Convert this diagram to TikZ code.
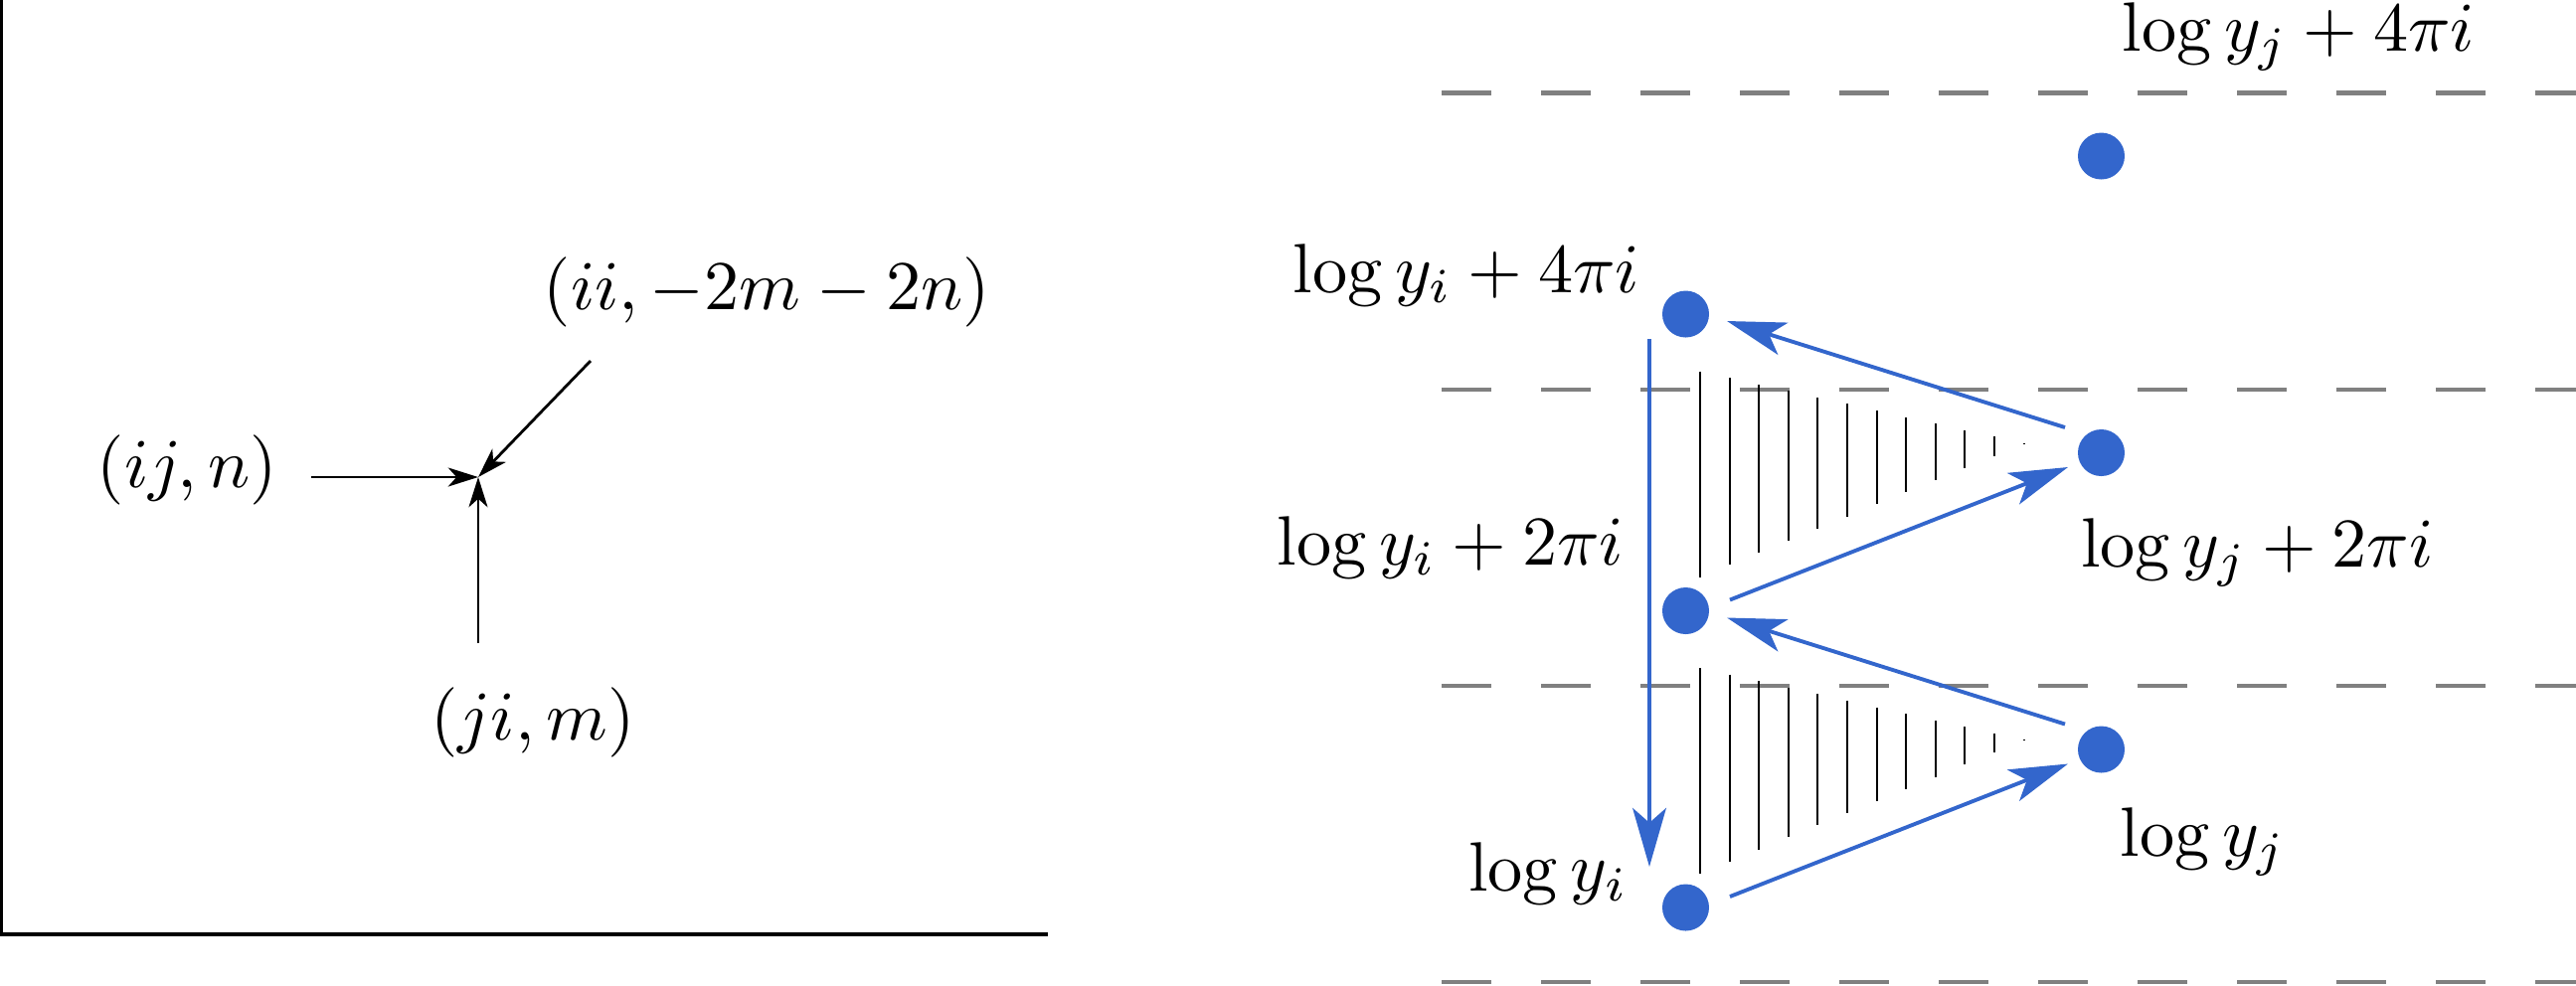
\documentclass[tikz,border=0pt]{standalone}
\usetikzlibrary{arrows.meta,calc}
\definecolor{dotblue}{RGB}{51,102,204}
\begin{document}
\begin{tikzpicture}[x=0.5cm,y=-0.5cm,
  lbl/.style={inner sep=0pt, anchor=base},
  dot/.style={circle, fill=dotblue, draw=none, inner sep=0pt, minimum size=0.235cm},
  blk/.style={line width=0.4pt, -{Stealth[length=4.3pt,width=2.7pt,inset=1.2pt]}},
  blu/.style={draw=dotblue, line width=0.55pt, -{Stealth[length=8.4pt,width=4.8pt,inset=2.1pt]}, fill=dotblue},
  period/.style={draw=gray, line width=0.6pt, dash pattern=on 0.25cm off 0.25cm},
  hatch/.style={line width=0.3pt}]
\useasboundingbox (0,0) rectangle (25.91,9.91);

% left panel frame
\draw[line width=0.5pt] (0.017,0) -- (0.017,9.40) -- (10.54,9.40);

% left panel labels
\node[lbl] (ijn) at (1.885,4.90) {$(ij,n)$};
\node[lbl] (iimn) at (7.715,3.115) {$(ii,-2m-2n)$};
\node[lbl] (jim) at (5.36,7.44) {$(ji,m)$};

% junction and arrows
\coordinate (J) at (4.81,4.80);
\coordinate (s1) at (3.13,4.80);
\coordinate (s2) at (4.81,6.47);
\coordinate (s3) at (5.94,3.63);
\draw[blk] (s1) -- (J);
\draw[blk] (s2) -- (J);
\draw[blk] (s3) -- (J);

% dashed period lines
\foreach \yy in {0.935,3.92,6.90,9.88}
  \draw[period] (14.5,\yy) -- (25.91,\yy);

% hatched triangles
\foreach \k in {0,...,11} {
  \pgfmathsetmacro\xx{17.10+0.296*\k}
  \pgfmathsetmacro\yt{3.735+0.2224*0.296*\k}
  \pgfmathsetmacro\yb{5.805-0.4117*0.296*\k}
  \pgfmathsetmacro\ytl{\yt+2.985}
  \pgfmathsetmacro\ybl{\yb+2.985}
  \draw[hatch] (\xx,\yt) -- (\xx,\yb);
  \draw[hatch] (\xx,\ytl) -- (\xx,\ybl);
}

% dots
\node[dot] (L0) at (16.955,9.13) {};
\node[dot] (L1) at (16.955,6.145) {};
\node[dot] (L2) at (16.955,3.16) {};
\node[dot] (R0) at (21.135,7.54) {};
\node[dot] (R1) at (21.135,4.555) {};
\node[dot] (R2) at (21.135,1.57) {};

% blue arrows
\draw[blu] ($(R1)+(-0.365,-0.255)$) -- ($(L2)+(0.415,0.07)$);
\draw[blu] ($(L1)+(0.445,-0.11)$) -- ($(R1)+(-0.335,0.145)$);
\draw[blu] ($(R0)+(-0.365,-0.255)$) -- ($(L1)+(0.415,0.07)$);
\draw[blu] ($(L0)+(0.445,-0.11)$) -- ($(R0)+(-0.335,0.145)$);
\draw[blu] ($(L2)+(-0.365,0.25)$) -- ($(L0)+(-0.365,-0.41)$);

% right panel labels
\node[lbl] (lj4) at (23.12,0.51) {$\log y_j + 4\pi i$};
\node[lbl] (lj2) at (22.705,5.70) {$\log y_j + 2\pi i$};
\node[lbl] (lj0) at (22.16,8.61) {$\log y_j$};
\node[lbl] (li4) at (14.75,2.94) {$\log y_i + 4\pi i$};
\node[lbl] (li2) at (14.59,5.68) {$\log y_i + 2\pi i$};
\node[lbl] (li0) at (15.575,8.96) {$\log y_i$};
\end{tikzpicture}
\end{document}
